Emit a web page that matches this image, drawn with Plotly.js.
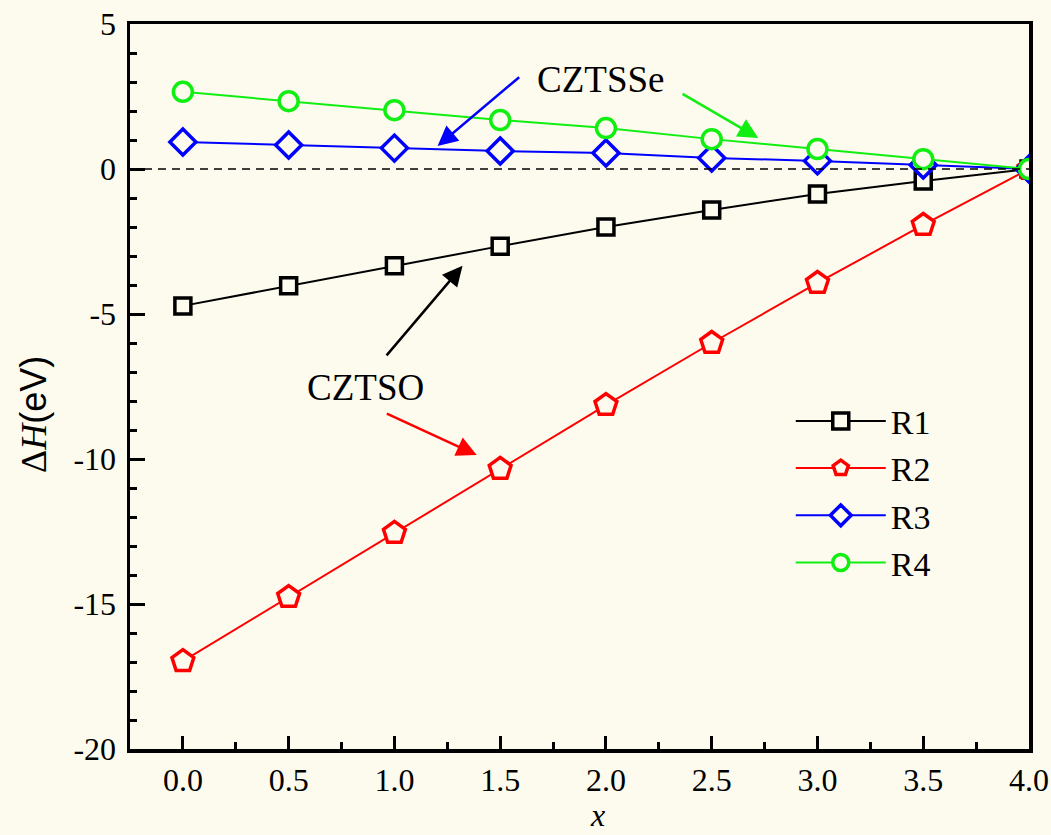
<!DOCTYPE html>
<html><head><meta charset="utf-8">
<script src="https://cdn.plot.ly/plotly-3.0.1.min.js"></script>
<style>html,body{margin:0;padding:0;background:#FCFBEE;}</style>
</head><body>
<div id="chart" style="width:1051px;height:835px;"></div>
<script>
const xValues = [0.0, 0.5, 1.0, 1.5, 2.0, 2.5, 3.0, 3.5, 4.0];
const r1 = [-4.72, -4.03, -3.34, -2.66, -2.00, -1.41, -0.86, -0.41, 0.0];
const r2 = [-16.97, -14.76, -12.55, -10.34, -8.14, -6.00, -3.93, -1.93, 0.0];
const r3 = [0.93, 0.83, 0.72, 0.62, 0.55, 0.38, 0.28, 0.14, 0.0];
const r4 = [2.66, 2.34, 2.03, 1.69, 1.41, 1.03, 0.69, 0.34, 0.0];
const seriesNames = ['R1', 'R2', 'R3', 'R4'];
const xTickVals = [0.0, 0.5, 1.0, 1.5, 2.0, 2.5, 3.0, 3.5, 4.0];
const xTickText = ['0.0', '0.5', '1.0', '1.5', '2.0', '2.5', '3.0', '3.5', '4.0'];
const yTickVals = [5, 0, -5, -10, -15, -20];
const yTickText = ['5', '0', '-5', '-10', '-15', '-20'];

const bg = '#FCFBEE';
const serif = '"Liberation Serif", "Times New Roman", serif';
function tr(y, name, color, symbol, size) {
  return {x: xValues, y: y, name: name, type: 'scatter', mode: 'lines+markers',
    line: {color: color, width: 2},
    marker: {symbol: symbol, size: size, color: bg, line: {color: color, width: 3.5}}};
}
const data = [
  tr(r1, seriesNames[0], '#000000', 'square', 16),
  tr(r2, seriesNames[1], '#FF0000', 'pentagon', 23),
  tr(r3, seriesNames[2], '#0000FF', 'diamond', 20),
  tr(r4, seriesNames[3], '#11EE11', 'circle', 19)
];
const axisCommon = {showline: true, linecolor: '#000', linewidth: 3.5, mirror: true,
  ticks: 'inside', tickcolor: '#000', tickwidth: 3, ticklen: 15, showgrid: false, zeroline: false,
  tickfont: {family: serif, size: 32, color: '#000'}};
const layout = {
  width: 1051, height: 835,
  paper_bgcolor: bg, plot_bgcolor: bg,
  margin: {l: 130, r: 22, t: 24, b: 86},
  showlegend: true,
  legend: {x: 0.735, y: 0.492, xanchor: 'left', yanchor: 'top', bgcolor: 'rgba(0,0,0,0)',
    font: {family: serif, size: 34, color: '#000'}, itemwidth: 90, tracegroupgap: 0},
  xaxis: Object.assign({}, axisCommon, {range: [-0.25, 4.0], tickvals: xTickVals, ticktext: xTickText,
    ticklen: 13,
    minor: {dtick: 0.25, ticks: 'inside', ticklen: 7, tickwidth: 3, tickcolor: '#000'}}),
  yaxis: Object.assign({}, axisCommon, {range: [-20, 5], tickvals: yTickVals, ticktext: yTickText,
    ticklabelstandoff: 4,
    minor: {dtick: 1, ticks: 'inside', ticklen: 7, tickwidth: 3, tickcolor: '#000'}}),
  shapes: [{type: 'line', xref: 'paper', x0: 0, x1: 1, yref: 'y', y0: 0, y1: 0,
    line: {color: '#000', width: 1.5, dash: '8px,6px'}}],
  annotations: [
    {xref: 'paper', yref: 'paper', x: -0.108, y: 0.462, xanchor: 'center', yanchor: 'middle',
      textangle: -90, showarrow: false,
      text: '<span style="font-family:Liberation Serif">Δ<i>H</i></span>(eV)',
      font: {family: '"Liberation Sans", Arial, sans-serif', size: 36, color: '#000'}},
    {xref: 'paper', yref: 'paper', x: 0.52, y: -0.091, xanchor: 'center', yanchor: 'middle',
      showarrow: false, text: '<i>x</i>', borderpad: 0,
      font: {family: serif, size: 32, color: '#000'}},
    {x: 1.976, y: 3.07, text: 'CZTSSe', showarrow: false, font: {family: serif, size: 37, color: '#000'}},
    {x: 1.204, y: 0.79, ax: 1.597, ay: 3.21, axref: 'x', ayref: 'y', xref: 'x', yref: 'y', text: '', showarrow: true,
      arrowcolor: '#0000FF', arrowwidth: 2.5, arrowhead: 2, arrowsize: 1.6},
    {x: 2.72, y: 1.07, ax: 2.355, ay: 2.62, axref: 'x', ayref: 'y', xref: 'x', yref: 'y', text: '', showarrow: true,
      arrowcolor: '#11EE11', arrowwidth: 2.5, arrowhead: 2, arrowsize: 1.6},
    {x: 0.862, y: -7.55, text: 'CZTSO', showarrow: false, font: {family: serif, size: 37, color: '#000'}},
    {x: 1.322, y: -3.34, ax: 0.957, ay: -6.48, axref: 'x', ayref: 'y', xref: 'x', yref: 'y', text: '', showarrow: true,
      arrowcolor: '#000000', arrowwidth: 2.5, arrowhead: 2, arrowsize: 1.6},
    {x: 1.389, y: -9.86, ax: 0.957, ay: -8.41, axref: 'x', ayref: 'y', xref: 'x', yref: 'y', text: '', showarrow: true,
      arrowcolor: '#FF0000', arrowwidth: 2.5, arrowhead: 2, arrowsize: 1.6}
  ]
};
Plotly.newPlot('chart', data, layout, {displayModeBar: false, staticPlot: true});
</script>
</body></html>
